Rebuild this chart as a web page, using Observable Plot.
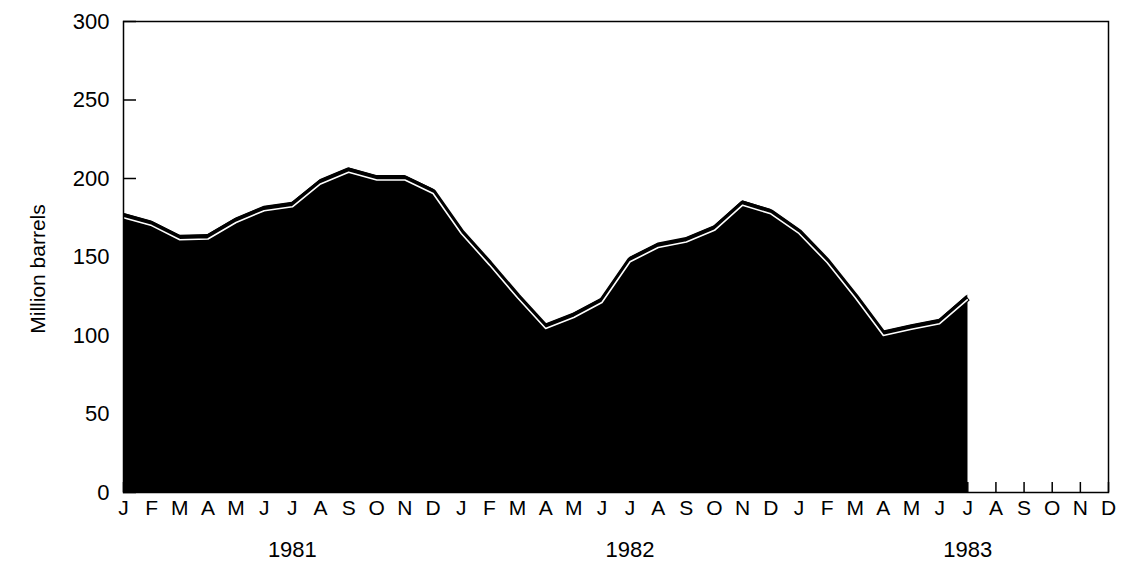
<!DOCTYPE html>
<html>
<head>
<meta charset="utf-8">
<script src="https://cdn.jsdelivr.net/npm/d3@7"></script>
<script src="https://cdn.jsdelivr.net/npm/@observablehq/plot@0.6"></script>
<style>
  html, body { margin: 0; padding: 0; background: #fff; }
  #chart svg { display: block; }
</style>
</head>
<body>
<div id="chart"></div>
<script>
const monthLetters = ["J","F","M","A","M","J","J","A","S","O","N","D"];
const years = ["1981", "1982", "1983"];
const yTicks = [0, 50, 100, 150, 200, 250, 300];
const yLabel = "Million barrels";

// Million barrels, monthly from Jan 1981 to Jul 1983
const values1981 = [175, 170, 161, 161.5, 172, 179.5, 182, 196.5, 204, 199, 199, 190.5];
const values1982 = [165, 145, 124, 104.5, 111.5, 121, 147, 156, 159.5, 167, 183, 177.5];
const values1983 = [165, 146.5, 124, 100, 104, 107.5, 123];

const series = [...values1981, ...values1982, ...values1983].map((v, i) => ({i, v}));
const monthIdx = d3.range(years.length * 12);
const yearCenters = years.map((y, k) => ({year: y, i: k * 12 + 6}));

const font = "'Liberation Sans', Arial, Helvetica, sans-serif";

const chart = Plot.plot({
  width: 1127,
  height: 566,
  marginTop: 21,
  marginLeft: 123,
  marginRight: 19,
  marginBottom: 74,
  style: {fontFamily: font, color: "black", background: "white"},
  x: {domain: [0, monthIdx.length - 1]},
  y: {domain: [0, 300]},
  marks: [
    // black body plus a raised black rim above the white line
    Plot.areaY(series, {x: "i", y: "v", fill: "black"}),
    Plot.areaY(series, {x: "i", y: "v", fill: "black", dy: -4.5, clip: true}),
    Plot.lineY(series, {x: "i", y: "v", stroke: "black", strokeWidth: 6, dy: -1.5, strokeLinejoin: "round", strokeLinecap: "butt", clip: true}),
    Plot.lineY(series, {x: "i", y: "v", stroke: "white", strokeWidth: 1.6, strokeLinejoin: "round", strokeLinecap: "butt", clip: true}),
    Plot.tickX(monthIdx, {x: d => d, stroke: "black", strokeWidth: 1.5, insetTop: 461}),
    Plot.tickY(yTicks, {y: d => d, stroke: "black", strokeWidth: 1.5, insetRight: 972}),
    Plot.frame({stroke: "black", strokeWidth: 1.5}),
    Plot.axisX({
      ticks: monthIdx,
      tickFormat: i => monthLetters[i % 12],
      tickSize: 0,
      tickPadding: 8,
      fontSize: 21,
      label: null
    }),
    Plot.axisY({
      ticks: yTicks,
      tickFormat: d => String(d),
      tickSize: 0,
      tickPadding: 14,
      fontSize: 22,
      label: null
    }),
    Plot.text(yearCenters, {x: "i", y: () => 0, text: "year", dy: 57, fontSize: 22, fill: "black"}),
    Plot.text([yLabel], {frameAnchor: "left", textAnchor: "middle", dx: -85, dy: 12, rotate: -90, fontSize: 21, fill: "black"})
  ]
});

document.getElementById("chart").appendChild(chart);
</script>
</body>
</html>
